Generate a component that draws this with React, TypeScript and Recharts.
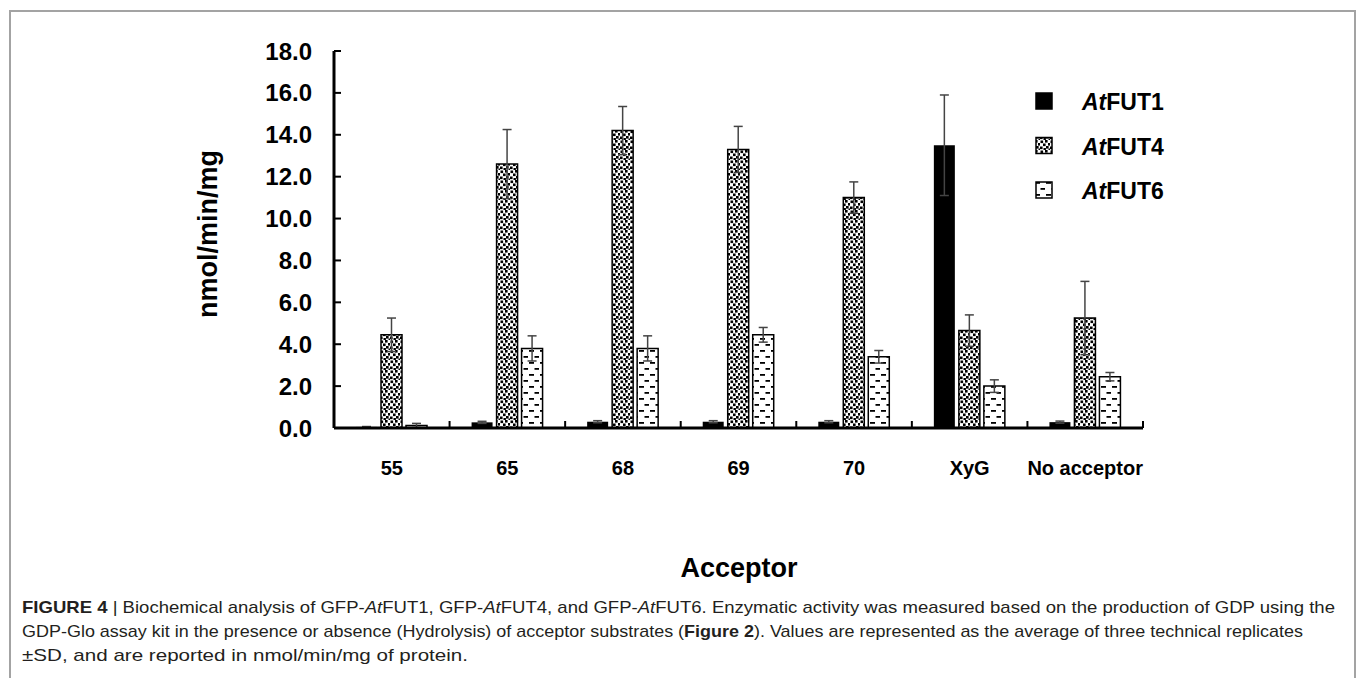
import React from "react";
import { BarChart, Bar, XAxis, YAxis, ErrorBar } from "recharts";

// acceptor substrates on the x axis
const acceptors = ["55", "65", "68", "69", "70", "XyG", "No acceptor"];

// nmol/min/mg, mean of three replicates, and SD
const fut1 = [0.05, 0.27, 0.3, 0.3, 0.3, 13.5, 0.28];
const fut1Sd = [0.02, 0.05, 0.05, 0.05, 0.05, 2.4, 0.05];
const fut4 = [4.45, 12.6, 14.2, 13.3, 11.0, 4.65, 5.25];
const fut4Sd = [0.8, 1.65, 1.15, 1.1, 0.75, 0.75, 1.75];
const fut6 = [0.12, 3.8, 3.8, 4.45, 3.4, 2.0, 2.45];
const fut6Sd = [0.1, 0.6, 0.6, 0.35, 0.3, 0.3, 0.2];

const yTicks = [0, 2, 4, 6, 8, 10, 12, 14, 16, 18];

const data = acceptors.map((name, i) => ({
  name,
  fut1: fut1[i],
  fut1Sd: fut1Sd[i],
  fut4: fut4[i],
  fut4Sd: fut4Sd[i],
  fut6: fut6[i],
  fut6Sd: fut6Sd[i],
}));

const series = [
  { key: "fut1", sd: "fut1Sd", gene: "FUT1", fill: "#000", stroke: "none" },
  { key: "fut4", sd: "fut4Sd", gene: "FUT4", fill: "url(#dots)", stroke: "#000" },
  { key: "fut6", sd: "fut6Sd", gene: "FUT6", fill: "url(#dashes)", stroke: "#000" },
];

const FONT = "Arial, 'Liberation Sans', sans-serif";

/* category label plus the little inward tick at the right edge of each band */
function AcceptorTick(props: any) {
  const { x, y, payload } = props;
  const half = payload && payload.offset ? payload.offset : 57.8;
  return (
    <g>
      <line x1={x + half} x2={x + half} y1={y} y2={y - 7} stroke="#000" strokeWidth={2} />
      <text
        x={x}
        y={y + 40}
        textAnchor="middle"
        dominantBaseline="central"
        fill="#000"
        style={{ fontSize: 20, fontWeight: 700, fontFamily: FONT }}
      >
        {payload.value}
      </text>
    </g>
  );
}

function Patterns() {
  return (
    <svg width={0} height={0} style={{ position: "absolute" }}>
      <defs>
        <pattern id="dots" patternUnits="userSpaceOnUse" width={10} height={10}>
          <rect width={10} height={10} fill="#fff" />
          <rect x={0.5} y={0.5} width={2.6} height={2.6} fill="#000" />
          <rect x={5} y={0} width={2.6} height={2.6} fill="#000" />
          <rect x={8} y={3} width={2.6} height={2.6} fill="#000" />
          <rect x={3} y={3.5} width={2.6} height={2.6} fill="#000" />
          <rect x={6} y={6} width={2.6} height={2.6} fill="#000" />
          <rect x={0} y={6.5} width={2.6} height={2.6} fill="#000" />
          <rect x={3.5} y={8} width={2.4} height={2} fill="#000" />
          <rect x={8.5} y={8.5} width={1.5} height={1.5} fill="#000" />
        </pattern>
        <pattern id="dashes" patternUnits="userSpaceOnUse" width={11} height={12}>
          <rect width={11} height={12} fill="#fff" />
          <rect x={1} y={2} width={5} height={1.8} fill="#000" />
          <rect x={6.5} y={8} width={5} height={1.8} fill="#000" />
        </pattern>
      </defs>
    </svg>
  );
}

const captionLines: { t: string; b?: boolean; i?: boolean }[][] = [
  [
    { t: "FIGURE 4", b: true },
    { t: " | Biochemical analysis of GFP-" },
    { t: "At", i: true },
    { t: "FUT1, GFP-" },
    { t: "At", i: true },
    { t: "FUT4, and GFP-" },
    { t: "At", i: true },
    { t: "FUT6. Enzymatic activity was measured based on the production of GDP using the" },
  ],
  [
    { t: "GDP-Glo assay kit in the presence or absence (Hydrolysis) of acceptor substrates (" },
    { t: "Figure 2", b: true },
    { t: "). Values are represented as the average of three technical replicates" },
  ],
  [{ t: "±SD, and are reported in nmol/min/mg of protein." }],
];
const captionWidths = [1313, 1281, 446];

export default function App() {
  return (
    <div
      style={{
        position: "absolute",
        left: 0,
        top: 0,
        width: 1357,
        height: 678,
        overflow: "hidden",
        background: "#fff",
      }}
    >
      <Patterns />
      <div
        style={{
          position: "absolute",
          left: 9,
          top: 10,
          width: 1343,
          height: 720,
          border: "2px solid #a3a3a3",
        }}
      />
      <div style={{ position: "absolute", left: 0, top: 0 }}>
        <BarChart
          width={1357}
          height={678}
          data={data}
          margin={{ top: 51, right: 214, bottom: 190, left: 254 }}
          barCategoryGap={22}
          barGap={4}
        >
          <XAxis
            dataKey="name"
            height={60}
            axisLine={{ stroke: "#000", strokeWidth: 3 }}
            tickLine={false}
            tickSize={0}
            tickMargin={0}
            tick={<AcceptorTick />}
            interval={0}
          />
          <YAxis
            width={80}
            domain={[0, 18]}
            ticks={yTicks}
            interval={0}
            tickFormatter={(v: number) => v.toFixed(1)}
            axisLine={{ stroke: "#000", strokeWidth: 3 }}
            tickLine={{ stroke: "#000", strokeWidth: 2 }}
            tickSize={-7}
            tickMargin={29}
            tick={{ fill: "#000", fontSize: 24, fontWeight: 700, fontFamily: FONT }}
          />
          {series.map((s) => (
            <Bar
              key={s.key}
              dataKey={s.key}
              fill={s.fill}
              stroke={s.stroke}
              strokeWidth={1.5}
              isAnimationActive={false}
            >
              <ErrorBar dataKey={s.sd} width={4.5} stroke="#444" strokeWidth={1.5} direction="y" />
            </Bar>
          ))}
        </BarChart>
      </div>
      <svg
        width={1357}
        height={678}
        style={{ position: "absolute", left: 0, top: 0, pointerEvents: "none" }}
      >
        <text
          transform="translate(208,234) rotate(-90)"
          textAnchor="middle"
          dominantBaseline="central"
          fill="#000"
          style={{ fontSize: 27, fontWeight: 700, fontFamily: FONT }}
        >
          nmol/min/mg
        </text>
        <text
          x={739}
          y={568}
          textAnchor="middle"
          dominantBaseline="central"
          fill="#000"
          style={{ fontSize: 27, fontWeight: 700, fontFamily: FONT }}
        >
          Acceptor
        </text>
        {series.map((s, i) => {
          const cy = 101 + i * 44.5;
          return (
            <g key={s.key}>
              <rect
                x={1036}
                y={cy - 8}
                width={16}
                height={16}
                fill={s.fill}
                stroke="#000"
                strokeWidth={1.5}
              />
              <text
                x={1082}
                y={cy + 1}
                dominantBaseline="central"
                fill="#000"
                style={{ fontSize: 23, fontWeight: 700, fontFamily: FONT }}
              >
                <tspan fontStyle="italic">At</tspan>
                {s.gene}
              </text>
            </g>
          );
        })}
        {captionLines.map((line, li) => (
          <text
            key={li}
            x={22}
            y={613 + li * 24}
            fill="#231f20"
            textLength={captionWidths[li]}
            lengthAdjust="spacingAndGlyphs"
            style={{ fontSize: 17, fontFamily: "'Liberation Sans Narrow', 'Liberation Sans', Arial, sans-serif" }}
          >
            {line.map((seg, si) => (
              <tspan
                key={si}
                fontWeight={seg.b ? 700 : 400}
                fontStyle={seg.i ? "italic" : "normal"}
              >
                {seg.t}
              </tspan>
            ))}
          </text>
        ))}
      </svg>
    </div>
  );
}
